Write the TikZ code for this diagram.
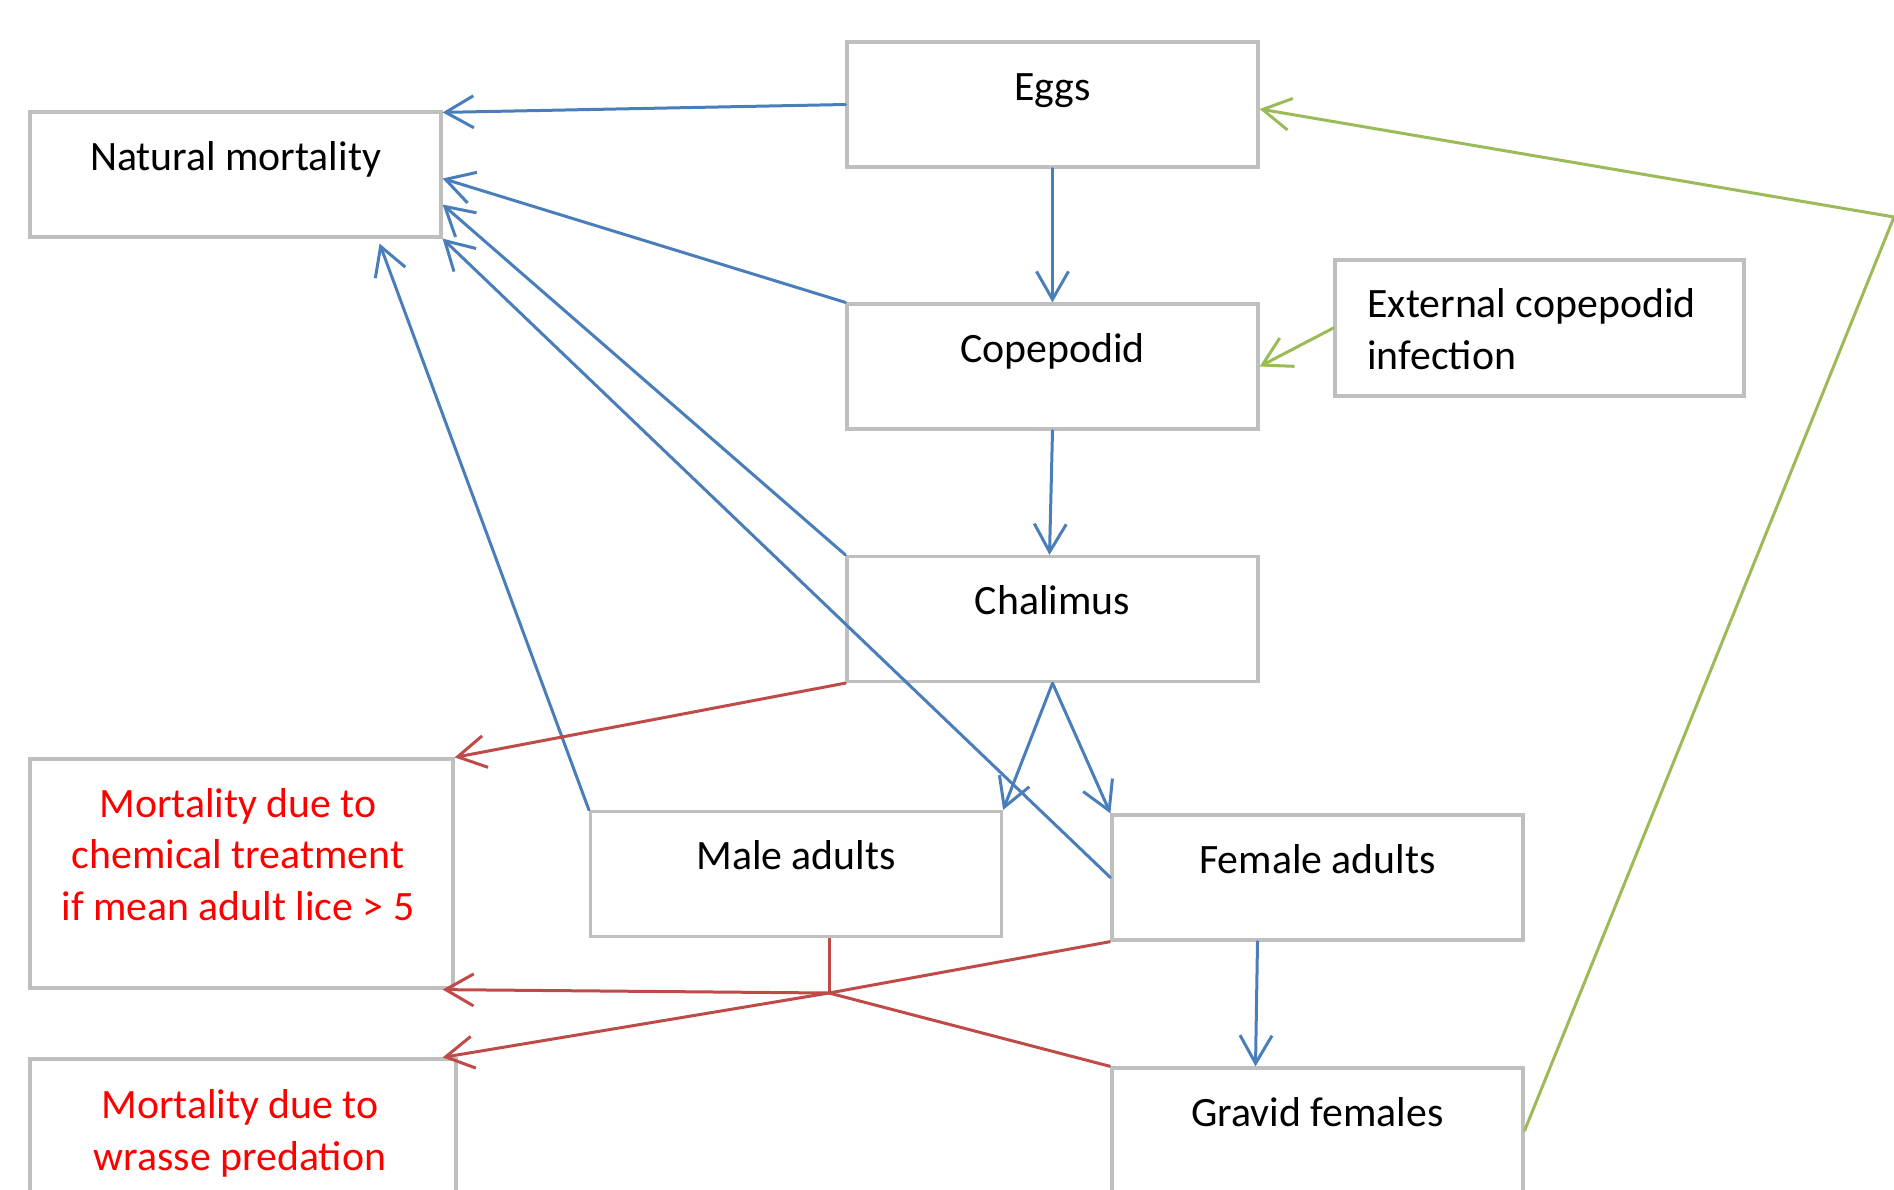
\documentclass[tikz,border=0pt]{standalone}
\usepackage{fontspec}
\setmainfont{Carlito}
\usetikzlibrary{arrows.meta,positioning}
\definecolor{lineblue}{RGB}{74,126,187}
\definecolor{linered}{RGB}{190,75,72}
\definecolor{linegreen}{RGB}{155,187,89}
\definecolor{boxgray}{RGB}{191,191,191}
\tikzset{font=\fontsize{20.9}{25.75}\selectfont}
\tikzset{
  box/.style={draw=boxgray,line width=1.6pt,minimum width=205.5pt,
    minimum height=62.5pt,inner sep=0pt},
  txt/.style={inner sep=0pt,anchor=base,align=center},
  flow/.style={line width=1.5pt,line cap=round,
    -{Straight Barb[length=14pt,width=16pt]}},
}

\begin{document}
\begin{tikzpicture}[x=0.5pt,y=-0.5pt]
  \useasboundingbox (0,0) rectangle (1894,1189);
  \clip (0,0) rectangle (1894,1189);
  \node[box] (nat) at (235.5,174.5) {};
  \node[box] (eggs) at (1052.5,104.5) {};
  \node[box] (cope) at (1052.5,366.5) {};
  \node[box,minimum width=204.5pt,minimum height=68pt] (ext) at (1539.5,328) {};
  \node[box] (chal) at (1052.5,619) {};
  \node[box] (male) at (796,874) {};
  \node[box] (female) at (1317.5,877.5) {};
  \node[box] (gravid) at (1317.5,1130.5) {};
  \node[box,minimum width=211.5pt,minimum height=114.5pt] (chem) at (241.5,873.5) {};
  \node[box,minimum width=213pt,minimum height=114.5pt] (wrasse) at (243,1173.5) {};
  \node[txt] (nat-t) at ([yshift=-30pt]nat.north) {Natural mortality};
  \node[txt] (eggs-t) at ([yshift=-30pt]eggs.north) {Eggs};
  \node[txt] (cope-t) at ([yshift=-30pt]cope.north) {Copepodid};
  \node[txt,anchor=base west,align=left] (ext-t) at (1367,369)
    {External copepodid\\infection};
  \node[txt] (chal-t) at ([yshift=-30pt]chal.north) {Chalimus};
  \node[txt] (male-t) at ([yshift=-30pt]male.north) {Male adults};
  \node[txt] (female-t) at ([yshift=-30pt]female.north) {Female adults};
  \node[txt] (gravid-t) at ([yshift=-30pt]gravid.north) {Gravid females};
  \node[txt,text=red] (chem-t) at ([xshift=-1.75pt,yshift=-81.5pt]chem.north)
    {Mortality due to\\chemical treatment\\if mean adult lice > 5};
  \node[txt,text=red] (wrasse-t) at ([xshift=-1.5pt,yshift=-56.5pt]wrasse.north)
    {Mortality due to\\wrasse predation};
  \draw[flow,lineblue] (eggs.west) -- ([yshift=-1pt]nat.north east);
  \draw[flow,lineblue] (cope.north west) -- ([yshift=-2pt]nat.east);
  \draw[flow,lineblue] (chal.north west) -- ([yshift=-15pt]nat.east);
  \draw[flow,lineblue] (female.west) -- (nat.south east);
  \draw[flow,lineblue] (male.north west) -- ([xshift=-31.5pt,yshift=-2.5pt]nat.south east);
  \draw[flow,lineblue] (eggs.south) -- (cope.north);
  \draw[flow,lineblue] (cope.south) -- ([xshift=-1.5pt]chal.north);
  \draw[flow,lineblue] (chal.south) -- (male.north east);
  \draw[flow,lineblue] (chal.south) -- (female.north west);
  \draw[flow,lineblue] ([xshift=-30pt]female.south) -- ([xshift=-31pt]gravid.north);
  \draw[flow,linegreen] (ext.west) -- (cope.east);
  \coordinate (bend) at (1894,217);
  \draw[flow,linegreen] (gravid.east) -- (bend) -- ([yshift=-2.25pt]eggs.east);
  \draw[flow,linered] (chal.south west) -- (chem.north east);
  \coordinate (junc) at (829,993);
  \draw[line width=1.5pt,linered] ([xshift=16.5pt]male.south) -- (junc);
  \draw[line width=1.5pt,linered] (female.south west) -- (junc);
  \draw[line width=1.5pt,linered] (gravid.north west) -- (junc);
  \draw[flow,linered] (junc) -- ([xshift=-6pt]chem.south east);
  \draw[flow,linered] (junc) -- ([xshift=-7.5pt]wrasse.north east);
\end{tikzpicture}
\end{document}
